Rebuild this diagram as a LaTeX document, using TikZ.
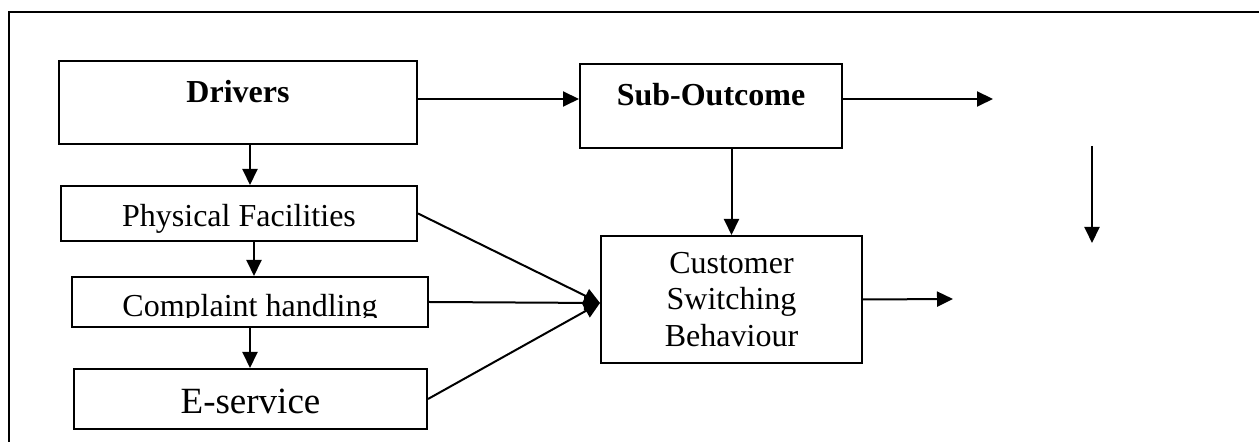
\documentclass[tikz,border=0pt]{standalone}
\usepackage{fontspec}
\setmainfont{Liberation Serif}
\usetikzlibrary{arrows.meta}

\begin{document}
\begin{tikzpicture}[
x=0.5pt, y=-0.5pt,
box/.style={draw, line width=1pt, inner sep=0pt, align=center, font=\fontsize{16}{18.3}\selectfont},
bold/.style={font=\fontsize{16}{18.3}\selectfont\bfseries, text height=8pt, text depth=8pt},
arr/.style={-{Triangle[length=8pt,width=7.5pt]}, line width=1pt}
]
\useasboundingbox (0,0) rectangle (1259,442);
% outer frame, cut off at right and bottom
\draw[line width=1pt] (9,442) -- (9,12) -- (1259,12);

\node[box, bold, minimum width=179pt, minimum height=41.5pt] (drv) at (238,102.5) {Drivers};
\node[box, bold, minimum width=131pt, minimum height=42pt] (sub) at (711,106) {Sub-Outcome};
\node[box, minimum width=178pt, minimum height=27.5pt, text height=14pt, text depth=0.5pt] (phy) at (239,213.5) {Physical Facilities};
\node[box, minimum width=178pt, minimum height=25pt] (cmp) at (250,302) {};
\node[box, minimum width=176.5pt, minimum height=30pt, text height=15.5pt, text depth=0.5pt,
  font=\fontsize{18.5}{22}\selectfont] (esv) at (250.5,399) {E-service};
\node[box, minimum width=130.5pt, minimum height=63.5pt] (cust) at (731.5,299.5) {Customer\\Switching\\Behaviour};

% text of the complaint box is cut at the bottom
\begin{scope}
\clip (cmp.north west) rectangle ([yshift=5.25pt]cmp.south east);
\node[box, draw=none, text height=15pt, text depth=0pt] (cmptxt) at (cmp) {Complaint handling};
\end{scope}

\coordinate (subout) at (993,99);
\coordinate (custout) at (953,299);
\coordinate (vtop) at (1092,146);
\coordinate (vbot) at (1092,243);
\coordinate (meet) at ([yshift=-1.75pt]cust.west);

\draw[arr] (drv.east |- subout) -- (sub.west |- subout);
\draw[arr] (sub.east |- subout) -- (subout);
\draw[arr] (sub.south -| cust.north) -- (cust.north);
\draw[arr] (vtop) -- (vbot);
\draw[arr] ([xshift=6pt]drv.south) -- ([xshift=6pt]drv.south |- phy.north);
\draw[arr] ([xshift=7.5pt]phy.south) -- ([xshift=7.5pt]phy.south |- cmp.north);
\draw[arr] (cmp.south) -- (cmp.south |- esv.north);
\draw[arr] (phy.east) -- (meet);
\draw[arr] (cmp.east) -- (meet);
\draw[arr] (esv.east) -- (meet);
\draw[arr] (cust.east) -- (custout);
\end{tikzpicture}
\end{document}
